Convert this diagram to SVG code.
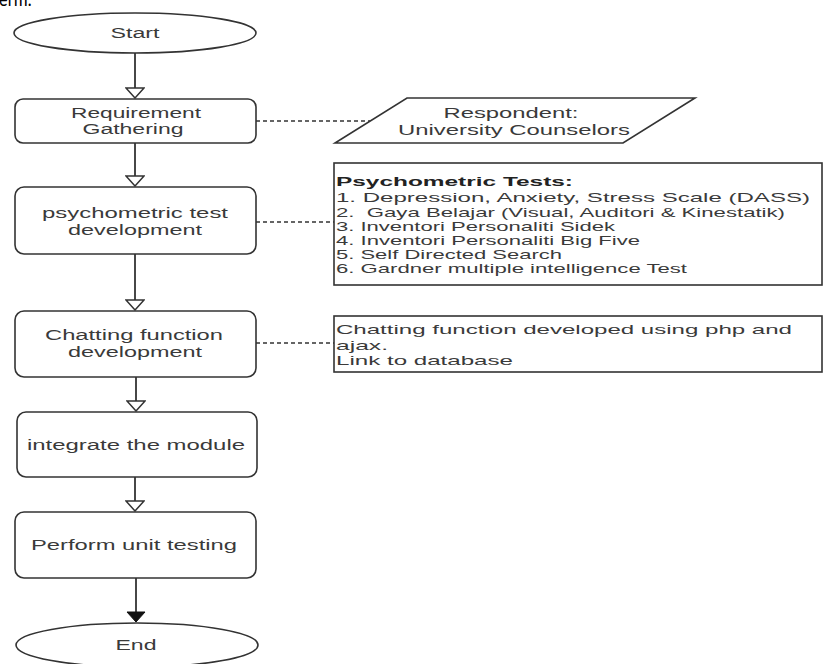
<svg xmlns="http://www.w3.org/2000/svg" width="823" height="664" viewBox="0 0 823 664">
<style>
.shape{fill:#fff;stroke:#333;stroke-width:1.6}
.t{font-family:"Liberation Sans",Arial,sans-serif;font-size:14px;fill:#3a3a3a;text-anchor:middle}
.n{font-family:"Liberation Sans",Arial,sans-serif;font-size:13px;fill:#3a3a3a}
.b{font-weight:bold;fill:#222}
.edge{fill:none;stroke:#333;stroke-width:1.8}
.dash{fill:none;stroke:#333;stroke-width:1.3;stroke-dasharray:4 3}
</style>
<defs>
<marker id="open" markerUnits="userSpaceOnUse" markerWidth="12" markerHeight="20" refX="10" refY="9" orient="auto" viewBox="-1 -1 12 20">
<path d="M0,0 L10,9 L0,18 Z" fill="#fff" stroke="#333" stroke-width="1.5"/>
</marker>
<marker id="filled" markerUnits="userSpaceOnUse" markerWidth="12" markerHeight="20" refX="10" refY="9" orient="auto" viewBox="-1 -1 12 20">
<path d="M0,0 L10,9 L0,18 Z" fill="#111" stroke="#111" stroke-width="1"/>
</marker>
</defs>
<text x="-1" y="6" font-family="Carlito,'Liberation Sans',sans-serif" font-size="20" fill="#000" textLength="33" lengthAdjust="spacingAndGlyphs">erm.</text>
<g id="connectors">
<line class="edge" x1="135" y1="53" x2="135" y2="98" marker-end="url(#open)"/>
<line class="edge" x1="135" y1="143" x2="135" y2="186" marker-end="url(#open)"/>
<line class="edge" x1="135" y1="254" x2="135" y2="310" marker-end="url(#open)"/>
<line class="edge" x1="136" y1="377" x2="136" y2="411" marker-end="url(#open)"/>
<line class="edge" x1="135" y1="477" x2="135" y2="511" marker-end="url(#open)"/>
<line class="edge" x1="136" y1="578" x2="136" y2="622" marker-end="url(#filled)"/>
<line class="dash" x1="256" y1="121" x2="370" y2="121"/>
<line class="dash" x1="256" y1="222" x2="334" y2="222"/>
<line class="dash" x1="256" y1="343" x2="334" y2="343"/>
</g>
<g id="start">
<ellipse class="shape" cx="135" cy="33" rx="121" ry="20"/>
<text class="t" x="135" y="38" textLength="49" lengthAdjust="spacingAndGlyphs">Start</text>
</g>
<g id="requirement">
<rect class="shape" x="15" y="99" width="241" height="44" rx="8"/>
<text class="t" x="136" y="118" textLength="130" lengthAdjust="spacingAndGlyphs">Requirement</text>
<text class="t" x="133" y="134" textLength="101" lengthAdjust="spacingAndGlyphs">Gathering</text>
</g>
<g id="respondent">
<polygon class="shape" points="407,98 695,98 623,143 335,143"/>
<text class="t" x="511" y="118" textLength="135" lengthAdjust="spacingAndGlyphs">Respondent:</text>
<text class="t" x="514" y="135" textLength="232" lengthAdjust="spacingAndGlyphs">University Counselors</text>
</g>
<g id="psychometric">
<rect class="shape" x="15" y="187" width="241" height="67" rx="9"/>
<text class="t" x="135" y="218" textLength="186" lengthAdjust="spacingAndGlyphs">psychometric test</text>
<text class="t" x="135" y="235" textLength="134" lengthAdjust="spacingAndGlyphs">development</text>
</g>
<g id="tests-note">
<rect class="shape" x="334" y="163" width="488" height="122"/>
<text class="n b" x="336" y="186" textLength="237" lengthAdjust="spacingAndGlyphs">Psychometric Tests:</text>
<text class="n" x="336" y="202" textLength="474" lengthAdjust="spacingAndGlyphs">1. Depression, Anxiety, Stress Scale (DASS)</text>
<text class="n" x="336" y="217" textLength="449" lengthAdjust="spacingAndGlyphs">2.&#160; Gaya Belajar (Visual, Auditori &amp; Kinestatik)</text>
<text class="n" x="336" y="231" textLength="279" lengthAdjust="spacingAndGlyphs">3. Inventori Personaliti Sidek</text>
<text class="n" x="336" y="245" textLength="304" lengthAdjust="spacingAndGlyphs">4. Inventori Personaliti Big Five</text>
<text class="n" x="336" y="259" textLength="226" lengthAdjust="spacingAndGlyphs">5. Self Directed Search</text>
<text class="n" x="336" y="273" textLength="351" lengthAdjust="spacingAndGlyphs">6. Gardner multiple intelligence Test</text>
</g>
<g id="chatting">
<rect class="shape" x="15" y="311" width="241" height="66" rx="9"/>
<text class="t" x="134" y="340" textLength="178" lengthAdjust="spacingAndGlyphs">Chatting function</text>
<text class="t" x="135" y="357" textLength="134" lengthAdjust="spacingAndGlyphs">development</text>
</g>
<g id="chat-note">
<rect class="shape" x="334" y="316" width="488" height="56"/>
<text class="n" x="336" y="334" textLength="456" lengthAdjust="spacingAndGlyphs">Chatting function developed using php and</text>
<text class="n" x="336" y="350" textLength="52" lengthAdjust="spacingAndGlyphs">ajax.</text>
<text class="n" x="336" y="365" textLength="177" lengthAdjust="spacingAndGlyphs">Link to database</text>
</g>
<g id="integrate">
<rect class="shape" x="17" y="412" width="240" height="65" rx="9"/>
<text class="t" x="136" y="450" textLength="218" lengthAdjust="spacingAndGlyphs">integrate the module</text>
</g>
<g id="unit-testing">
<rect class="shape" x="15" y="512" width="241" height="66" rx="9"/>
<text class="t" x="134" y="550" textLength="206" lengthAdjust="spacingAndGlyphs">Perform unit testing</text>
</g>
<g id="end">
<ellipse class="shape" cx="137" cy="645" rx="121" ry="22"/>
<text class="t" x="136" y="650" textLength="41" lengthAdjust="spacingAndGlyphs">End</text>
</g>
</svg>
